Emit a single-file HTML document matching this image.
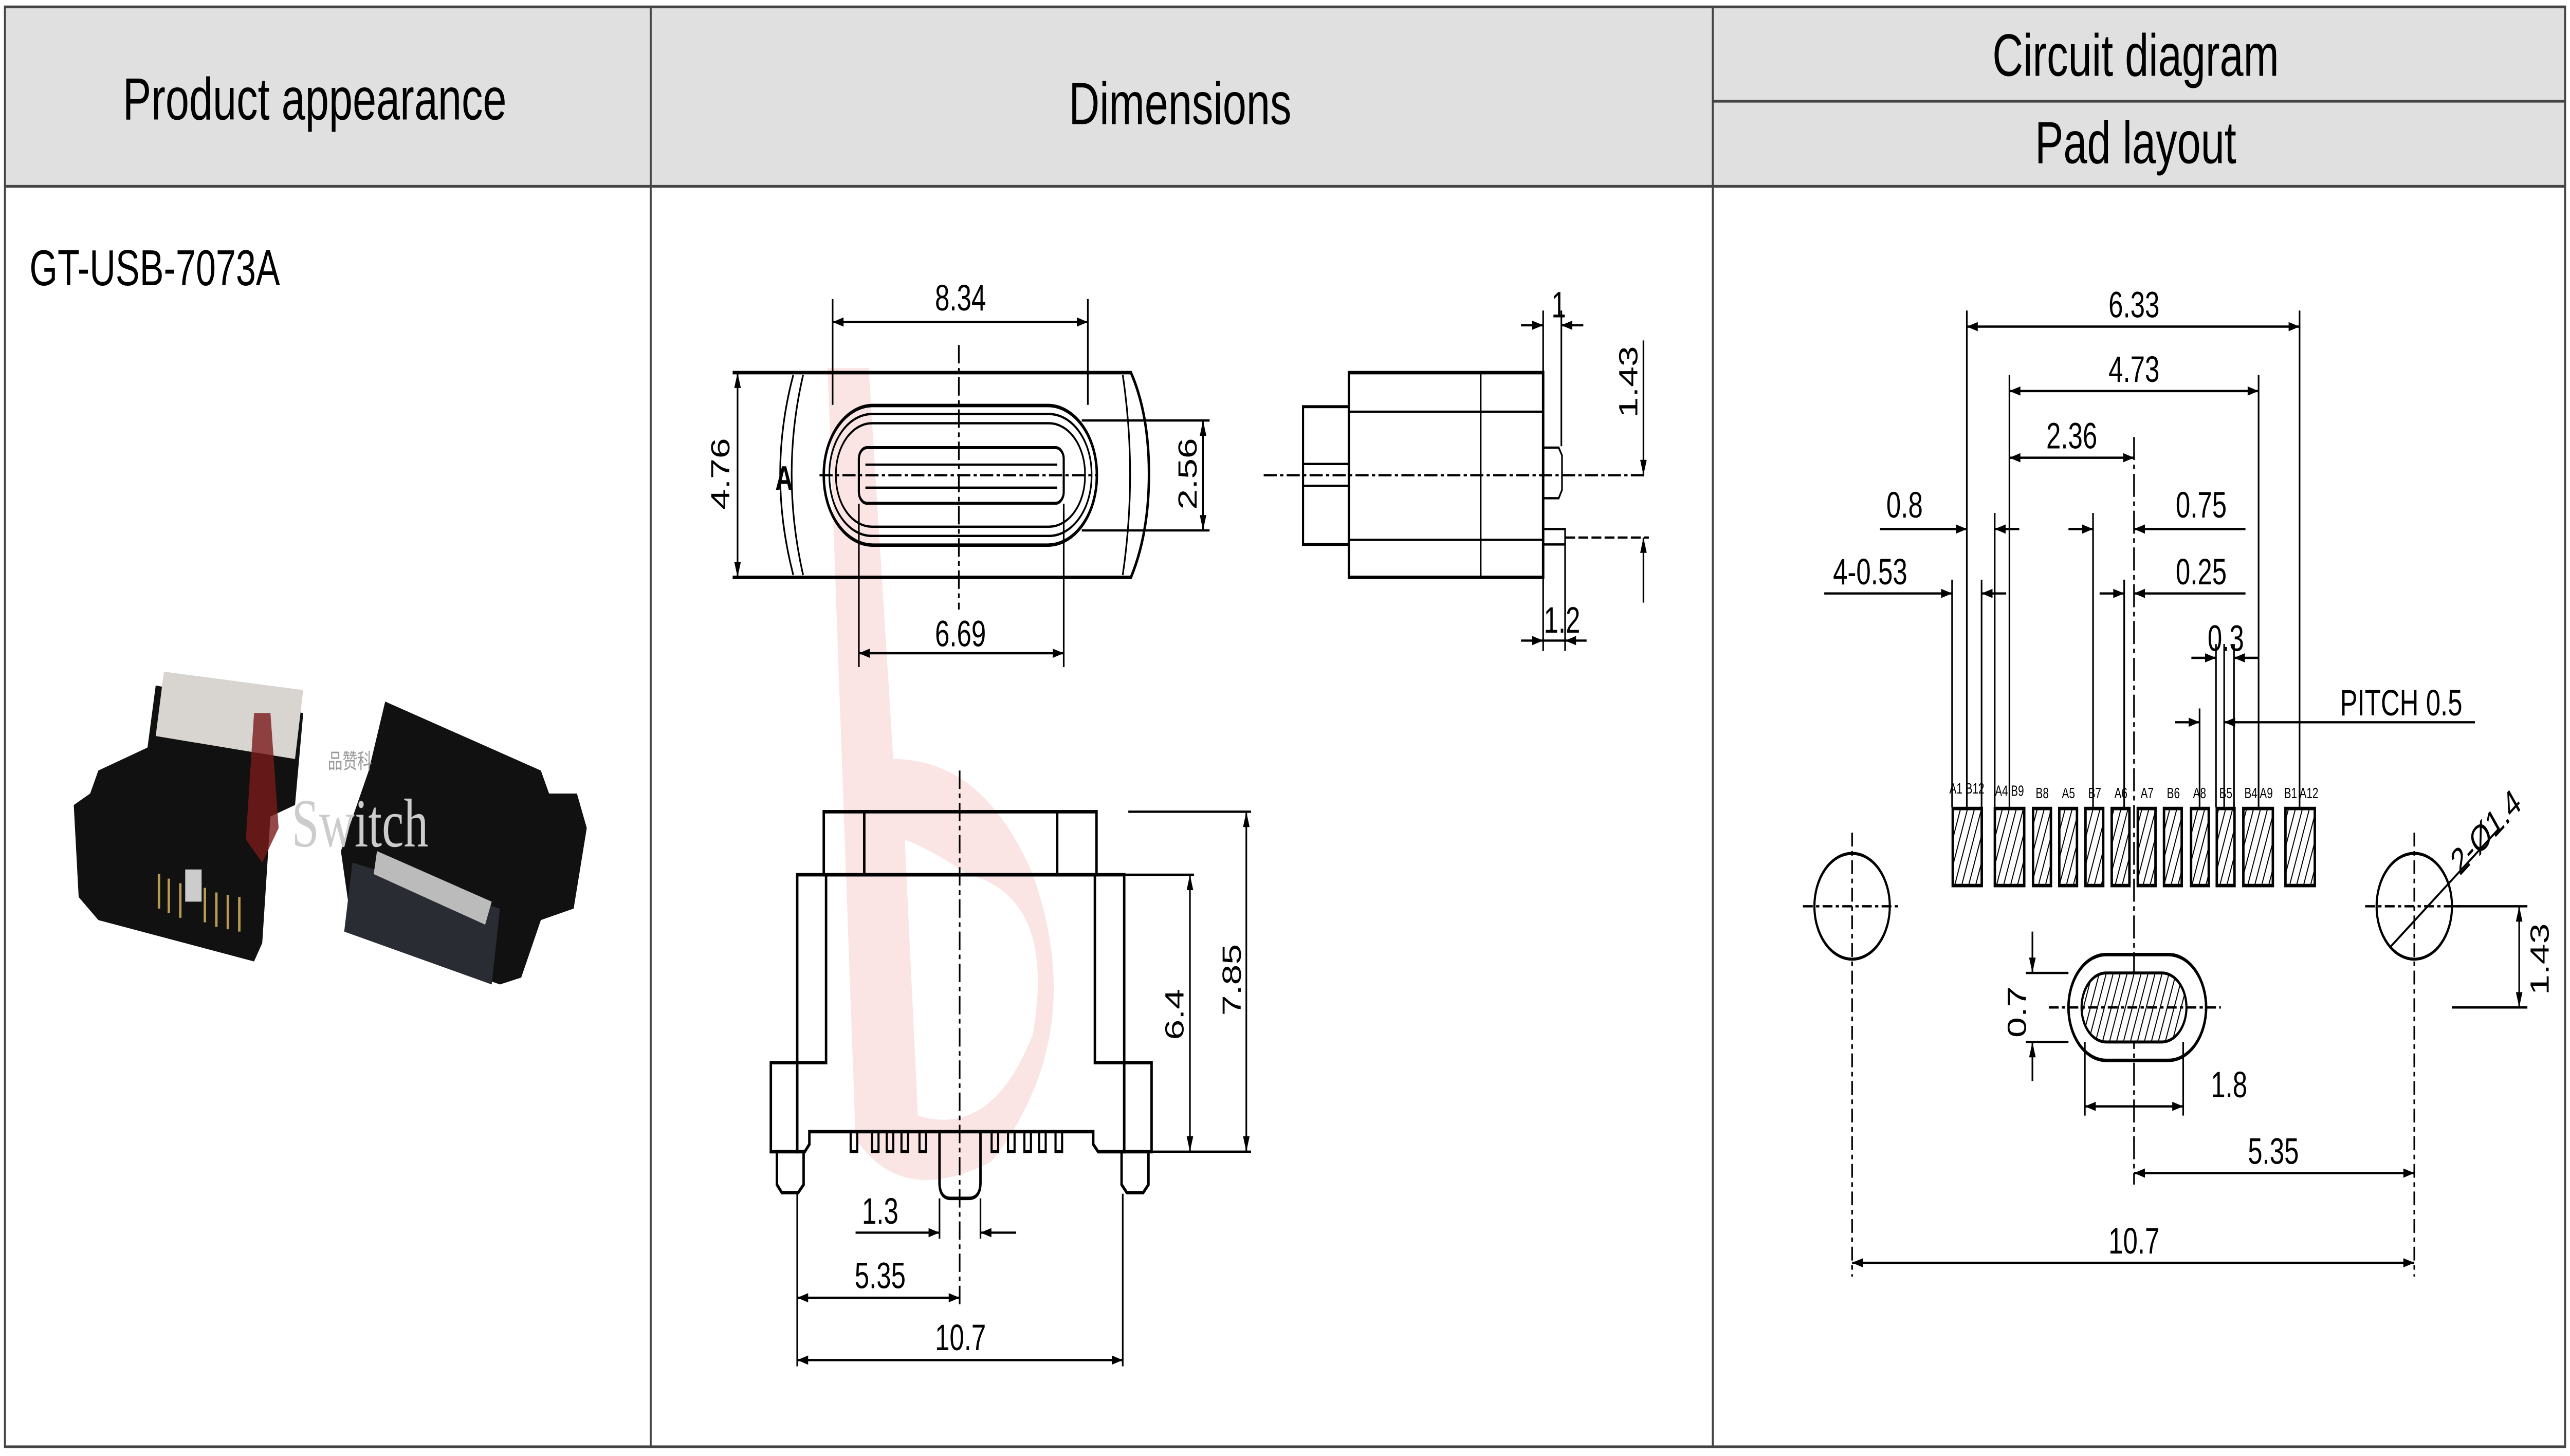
<!DOCTYPE html>
<html><head><meta charset="utf-8"><style>
html,body{margin:0;padding:0;background:#fff;width:100%;height:100%;overflow:hidden}
svg{display:block;position:fixed;left:0;top:0;width:100vw;height:100vh}
text{font-family:"Liberation Sans",Arial,sans-serif;fill:#000}
</style></head><body>
<svg viewBox="0 0 1568 633" preserveAspectRatio="none" xmlns="http://www.w3.org/2000/svg">
<defs>
<marker id="a" viewBox="0 0 10 6" refX="10" refY="3" markerWidth="7" markerHeight="4" orient="auto-start-reverse" markerUnits="userSpaceOnUse"><path d="M0,0L10,3L0,6z" fill="#000"/></marker>
<pattern id="h" width="4" height="4" patternUnits="userSpaceOnUse" patternTransform="rotate(20)"><rect width="4" height="4" fill="#fff"/><line x1="0" y1="0" x2="0" y2="4" stroke="#000" stroke-width="1.2"/></pattern>
</defs>
<rect width="1568" height="633" fill="#fff"/>
<rect x="3" y="3" width="1562" height="78" fill="#e0e0e0"/>
<g stroke="#444" stroke-width="1.2" fill="none">
<rect x="3" y="3" width="1562" height="626"/>
<line x1="3" y1="81" x2="1565" y2="81"/>
<line x1="397" y1="3" x2="397" y2="629"/>
<line x1="1045" y1="3" x2="1045" y2="629"/>
<line x1="1045" y1="44" x2="1565" y2="44"/>
</g>
<text x="192" y="52" font-size="26" text-anchor="middle">Product appearance</text>
<text x="720" y="54" font-size="26" text-anchor="middle">Dimensions</text>
<text x="1303" y="33" font-size="26" text-anchor="middle">Circuit diagram</text>
<text x="1303" y="71" font-size="26" text-anchor="middle">Pad layout</text>
<text x="18" y="124" font-size="22">GT-USB-7073A</text>

<g>
<path d="M95,298 L185,310 L180,350 L165,355 L160,410 L155,418 L60,400 L48,390 L45,350 L55,345 L60,335 L90,325z" fill="#111"/>
<path d="M100,292 L185,300 L180,330 L95,320z" fill="#d8d4d0"/>
<g stroke="#b89a50" stroke-width="1.5"><line x1="97" y1="380" x2="97" y2="395"/><line x1="103" y1="382" x2="103" y2="397"/><line x1="110" y1="384" x2="110" y2="399"/><line x1="125" y1="386" x2="125" y2="401"/><line x1="132" y1="388" x2="132" y2="403"/><line x1="139" y1="389" x2="139" y2="404"/><line x1="146" y1="390" x2="146" y2="405"/></g>
<rect x="113" y="378" width="10" height="14" fill="#ccc"/>
<path d="M235,305 L330,335 L335,345 L352,345 L358,360 L350,395 L330,400 L318,425 L305,428 L215,405 L208,370 L225,335z" fill="#111"/>
<path d="M215,375 L305,395 L300,428 L210,405z" fill="#2a2c33"/>
<path d="M230,370 L300,392 L296,402 L228,380z" fill="#bbb"/>
<text x="200" y="334" font-size="9" style="fill:#999">品赞科</text>
<text x="178" y="368" font-size="30" style="fill:#ccc;font-family:'Liberation Serif',serif">Switch</text>
<path d="M155,310 L165,310 L170,360 L160,375 L150,365z" fill="#7a1a1a" opacity="0.8"/>
</g>

<path d="M505,160 L530,160 L545,330 Q600,330 630,380 Q665,450 605,505 Q550,525 522,495 Z M552,365 L560,485 Q605,495 630,450 Q645,390 590,380 Q570,370 552,365z" fill="#fbe4e4" fill-rule="evenodd"/>

<g stroke="#000" stroke-width="1" fill="none">
<!-- front view -->
<path d="M447,162 L690,162 Q701,180 701,206 Q701,232 690,251 L447,251" stroke-width="1.5"/>
<path d="M484,163 Q468,206 484,250"/>
<path d="M490,163 Q476,206 490,250"/>
<path d="M685,163 Q694,206 685,250"/>
<rect x="502.6" y="176.3" width="166.6" height="60.7" rx="30" stroke-width="1.5"/>
<rect x="506" y="180" width="160" height="53" rx="26"/>
<rect x="510" y="184" width="152" height="45" rx="22"/>
<rect x="524" y="194.6" width="125" height="24.2" rx="5" stroke-width="1.3"/>
<line x1="528" y1="202" x2="645" y2="202"/><line x1="528" y1="212" x2="645" y2="212"/>
<line x1="585" y1="150" x2="585" y2="265" stroke-dasharray="8,2,2,2"/>
<line x1="500" y1="206.6" x2="670" y2="206.6" stroke-dasharray="8,2,2,2"/>
<line x1="508" y1="130" x2="508" y2="176"/><line x1="663.7" y1="130" x2="663.7" y2="176"/>
<line x1="508" y1="140" x2="663.7" y2="140" marker-start="url(#a)" marker-end="url(#a)"/>
<line x1="524" y1="219" x2="524" y2="290"/><line x1="649" y1="219" x2="649" y2="290"/>
<line x1="524" y1="284" x2="649" y2="284" marker-start="url(#a)" marker-end="url(#a)"/>
<line x1="450" y1="162" x2="450" y2="251" marker-start="url(#a)" marker-end="url(#a)"/>
<line x1="660" y1="182.8" x2="738" y2="182.8"/><line x1="660" y1="230.6" x2="738" y2="230.6"/>
<line x1="734" y1="182.8" x2="734" y2="230.6" marker-start="url(#a)" marker-end="url(#a)"/>
<!-- side view -->
<rect x="823" y="162" width="118.5" height="89" stroke-width="1.5"/>
<line x1="823" y1="179" x2="941.5" y2="179"/><line x1="823" y1="234.7" x2="941.5" y2="234.7"/>
<line x1="903.4" y1="162" x2="903.4" y2="251"/>
<rect x="795" y="176.8" width="28" height="59.9" stroke-width="1.3"/>
<line x1="795" y1="201.7" x2="823" y2="201.7"/><line x1="795" y1="211.2" x2="823" y2="211.2"/>
<path d="M941.5,194.6 L951,194.6 L953,198 L953,213 L951,216.6 L941.5,216.6"/>
<rect x="941.5" y="230" width="13.4" height="6.7"/>
<line x1="771" y1="206.6" x2="1005" y2="206.6" stroke-dasharray="8,2,2,2"/>
<line x1="941.5" y1="135" x2="941.5" y2="162"/><line x1="952.6" y1="135" x2="952.6" y2="194"/>
<line x1="928" y1="141.4" x2="941.5" y2="141.4" marker-end="url(#a)"/><line x1="966" y1="141.4" x2="952.6" y2="141.4" marker-end="url(#a)"/>
<line x1="1002.7" y1="148" x2="1002.7" y2="206.6" marker-end="url(#a)"/>
<line x1="1002.7" y1="262" x2="1002.7" y2="233.7" marker-end="url(#a)"/>
<line x1="955" y1="233.7" x2="1006" y2="233.7" stroke-dasharray="6,2"/>
<line x1="941.5" y1="251" x2="941.5" y2="283"/><line x1="954.9" y1="237" x2="954.9" y2="283"/>
<line x1="928" y1="278.5" x2="941.5" y2="278.5" marker-end="url(#a)"/><line x1="968" y1="278.5" x2="954.9" y2="278.5" marker-end="url(#a)"/>
<line x1="941.5" y1="278.5" x2="954.9" y2="278.5"/>
<!-- bottom view -->
<g stroke-width="1.5">
<rect x="502.6" y="352.9" width="166.4" height="27.4"/>
<line x1="527.3" y1="352.9" x2="527.3" y2="380.3"/><line x1="645" y1="352.9" x2="645" y2="380.3"/>
<path d="M504,380.3 L504,462 L486.4,462 M486.4,380.3 L486.4,500.7 L491,500.7 L493.8,497.5 L493.8,492 L667,492 L667,497.5 L670,500.7 L685.9,500.7 L685.9,380.3 Z M668,380.3 L668,462 L685.9,462"/>
<rect x="470.3" y="462" width="16.1" height="38.7"/>
<rect x="685.9" y="462" width="16.7" height="38.7"/>
<path d="M474,500.7 L474,515 L477,518.5 L487,518.5 L490.3,515 L490.3,500.7"/>
<path d="M684.3,500.7 L684.3,515 L687.5,518.5 L697.5,518.5 L700.7,515 L700.7,500.7"/>
<path d="M573.2,492 L573.2,514 Q573.2,521 580,521 L591,521 Q598.2,521 598.2,514 L598.2,492"/>
</g>
<line x1="585.5" y1="335" x2="585.5" y2="568" stroke-dasharray="8,2,2,2"/>
<g stroke-width="1.3">
<rect x="519" y="492" width="4" height="8.7"/><rect x="532" y="492" width="4" height="8.7"/><rect x="541" y="492" width="4" height="8.7"/><rect x="550" y="492" width="4" height="8.7"/><rect x="561" y="492" width="4" height="8.7"/>
<rect x="605" y="492" width="4" height="8.7"/><rect x="615" y="492" width="4" height="8.7"/><rect x="625" y="492" width="4" height="8.7"/><rect x="634" y="492" width="4" height="8.7"/><rect x="644" y="492" width="4" height="8.7"/>
</g>
<line x1="688.4" y1="352.9" x2="763.3" y2="352.9"/><line x1="685" y1="380.3" x2="728.5" y2="380.3"/>
<line x1="703" y1="500.7" x2="763.3" y2="500.7"/>
<line x1="760.4" y1="352.9" x2="760.4" y2="500.7" marker-start="url(#a)" marker-end="url(#a)"/>
<line x1="726" y1="380.3" x2="726" y2="500.7" marker-start="url(#a)" marker-end="url(#a)"/>
<line x1="486.4" y1="519" x2="486.4" y2="594"/><line x1="685" y1="519" x2="685" y2="594"/>
<line x1="573.2" y1="521" x2="573.2" y2="538.5"/><line x1="598.2" y1="521" x2="598.2" y2="538.5"/>
<line x1="522" y1="535.9" x2="573.2" y2="535.9" marker-end="url(#a)"/><line x1="620" y1="535.9" x2="598.2" y2="535.9" marker-end="url(#a)"/>
<line x1="486.4" y1="564.2" x2="585.5" y2="564.2" marker-start="url(#a)" marker-end="url(#a)"/>
<line x1="486.4" y1="591.3" x2="685" y2="591.3" marker-start="url(#a)" marker-end="url(#a)"/>
</g>
<text x="473" y="213" font-size="15" font-weight="bold">A</text>
<g font-size="16">
<text x="586" y="135" text-anchor="middle">8.34</text>
<text x="586" y="281" text-anchor="middle">6.69</text>
<text transform="translate(445,206) rotate(-90)" text-anchor="middle">4.76</text>
<text transform="translate(730,206) rotate(-90)" text-anchor="middle">2.56</text>
<text x="951" y="138" text-anchor="middle">1</text>
<text transform="translate(999,166) rotate(-90)" text-anchor="middle">1.43</text>
<text x="953" y="275" text-anchor="middle">1.2</text>
<text transform="translate(757,426) rotate(-90)" text-anchor="middle">7.85</text>
<text transform="translate(722,441) rotate(-90)" text-anchor="middle">6.4</text>
<text x="537" y="532" text-anchor="middle">1.3</text>
<text x="537" y="560" text-anchor="middle">5.35</text>
<text x="586" y="587" text-anchor="middle">10.7</text>
</g>

<g fill="url(#h)" stroke="#000" stroke-width="1.5">
<rect x="1191.4" y="351.5" width="17.7" height="33.5"/>
<rect x="1217.1" y="351.5" width="17.9" height="33.5"/>
<rect x="1240.4" y="351.5" width="10.9" height="33.5"/>
<rect x="1256.4" y="351.5" width="10.8" height="33.5"/>
<rect x="1272.4" y="351.5" width="10.8" height="33.5"/>
<rect x="1288.4" y="351.5" width="10.8" height="33.5"/>
<rect x="1304.3" y="351.5" width="10.8" height="33.5"/>
<rect x="1320.3" y="351.5" width="10.8" height="33.5"/>
<rect x="1336.8" y="351.5" width="10.8" height="33.5"/>
<rect x="1352.5" y="351.5" width="10.8" height="33.5"/>
<rect x="1368.7" y="351.5" width="18" height="33.5"/>
<rect x="1394.4" y="351.5" width="17.9" height="33.5"/>
</g>
<g font-size="6.5" text-anchor="middle">
<text x="1200" y="345">A1 B12</text><text x="1226" y="346">A4 B9</text>
<text x="1246" y="347">B8</text><text x="1262" y="347">A5</text><text x="1278" y="347">B7</text>
<text x="1294" y="347">A6</text><text x="1310" y="347">A7</text><text x="1326" y="347">B6</text>
<text x="1342" y="347">A8</text><text x="1358" y="347">B5</text>
<text x="1378" y="347">B4 A9</text><text x="1404" y="347">B1 A12</text>
</g>
<g stroke="#000" stroke-width="1" fill="none">
<circle cx="1130" cy="394" r="23" stroke-width="1.3"/>
<circle cx="1473" cy="394" r="23" stroke-width="1.3"/>
<line x1="1100" y1="394" x2="1160" y2="394" stroke-dasharray="6,2,2,2"/>
<line x1="1443" y1="394" x2="1503" y2="394" stroke-dasharray="6,2,2,2"/>
<line x1="1130" y1="362" x2="1130" y2="555" stroke-dasharray="6,2,2,2"/>
<line x1="1473" y1="362" x2="1473" y2="555" stroke-dasharray="6,2,2,2"/>
<line x1="1302" y1="190" x2="1302" y2="515" stroke-dasharray="10,2,2,2"/>
<rect x="1262" y="415" width="84" height="46" rx="23" stroke-width="1.5"/>
<rect x="1270" y="423" width="64" height="30" rx="15" fill="url(#h)" stroke-width="1.3"/>
<line x1="1250" y1="438" x2="1355" y2="438" stroke-dasharray="6,2,2,2"/>
<line x1="1458" y1="412" x2="1525" y2="360"/>
<line x1="1200" y1="135" x2="1200" y2="351"/><line x1="1403" y1="135" x2="1403" y2="351"/>
<line x1="1226" y1="163" x2="1226" y2="351"/><line x1="1378" y1="163" x2="1378" y2="351"/>
<line x1="1217" y1="223" x2="1217" y2="351"/>
<line x1="1191" y1="252" x2="1191" y2="351"/><line x1="1209" y1="252" x2="1209" y2="351"/>
<line x1="1277" y1="223" x2="1277" y2="351"/><line x1="1296" y1="252" x2="1296" y2="351"/>
<line x1="1352" y1="280" x2="1352" y2="351"/><line x1="1363" y1="280" x2="1363" y2="351"/>
<line x1="1342" y1="308" x2="1342" y2="351"/><line x1="1357" y1="280" x2="1357" y2="351"/>
<line x1="1200" y1="142" x2="1403" y2="142" marker-start="url(#a)" marker-end="url(#a)"/>
<line x1="1226" y1="170" x2="1378" y2="170" marker-start="url(#a)" marker-end="url(#a)"/>
<line x1="1226" y1="199" x2="1302" y2="199" marker-start="url(#a)" marker-end="url(#a)"/>
<line x1="1147" y1="230" x2="1200" y2="230" marker-end="url(#a)"/><line x1="1232" y1="230" x2="1217" y2="230" marker-end="url(#a)"/>
<line x1="1262" y1="230" x2="1277" y2="230" marker-end="url(#a)"/><line x1="1370" y1="230" x2="1302" y2="230" marker-end="url(#a)"/>
<line x1="1113" y1="258" x2="1191" y2="258" marker-end="url(#a)"/><line x1="1224" y1="258" x2="1209" y2="258" marker-end="url(#a)"/>
<line x1="1281" y1="258" x2="1296" y2="258" marker-end="url(#a)"/><line x1="1370" y1="258" x2="1302" y2="258" marker-end="url(#a)"/>
<line x1="1337" y1="286" x2="1352" y2="286" marker-end="url(#a)"/><line x1="1378" y1="286" x2="1363" y2="286" marker-end="url(#a)"/>
<line x1="1327" y1="314" x2="1342" y2="314" marker-end="url(#a)"/><line x1="1510" y1="314" x2="1357" y2="314" marker-end="url(#a)"/>
<line x1="1236" y1="423" x2="1262" y2="423"/><line x1="1236" y1="453" x2="1262" y2="453"/>
<line x1="1240" y1="405" x2="1240" y2="423" marker-end="url(#a)"/><line x1="1240" y1="470" x2="1240" y2="453" marker-end="url(#a)"/>
<line x1="1272" y1="453" x2="1272" y2="485"/><line x1="1332" y1="453" x2="1332" y2="485"/>
<line x1="1272" y1="481" x2="1332" y2="481" marker-start="url(#a)" marker-end="url(#a)"/>
<line x1="1302" y1="510" x2="1473" y2="510" marker-start="url(#a)" marker-end="url(#a)"/>
<line x1="1130" y1="549" x2="1473" y2="549" marker-start="url(#a)" marker-end="url(#a)"/>
<line x1="1496" y1="438" x2="1542" y2="438"/><line x1="1496" y1="394" x2="1542" y2="394"/>
<line x1="1537" y1="394" x2="1537" y2="438" marker-start="url(#a)" marker-end="url(#a)"/>
</g>
<g font-size="16" text-anchor="middle">
<text x="1302" y="138">6.33</text>
<text x="1302" y="166">4.73</text>
<text x="1264" y="195">2.36</text>
<text x="1162" y="225">0.8</text>
<text x="1343" y="225">0.75</text>
<text x="1141" y="254">4-0.53</text>
<text x="1343" y="254">0.25</text>
<text x="1358" y="283">0.3</text>
<text x="1465" y="311">PITCH 0.5</text>
<text x="1360" y="477">1.8</text>
<text x="1387" y="506">5.35</text>
<text x="1302" y="545">10.7</text>
<text transform="translate(1236,440) rotate(-90)">0.7</text>
<text transform="translate(1555,417) rotate(-90)">1.43</text>
<text transform="translate(1520,366) rotate(-38)">2-Ø1.4</text>
</g>
</svg>
</body></html>
